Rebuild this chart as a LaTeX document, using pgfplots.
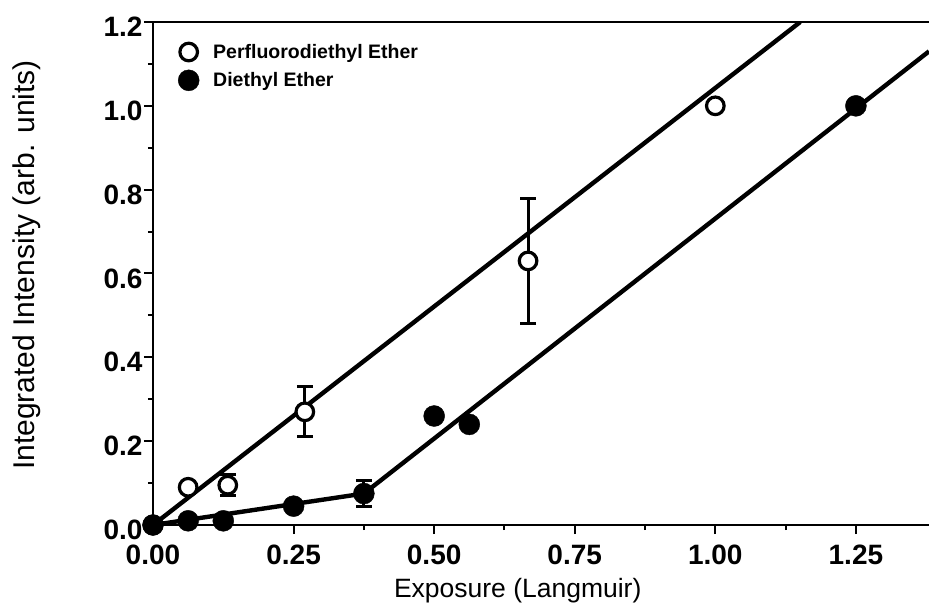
\documentclass[border=0pt]{standalone}
\usepackage{fontspec}
\setmainfont{Liberation Sans}
\usepackage{pgfplots}
\pgfplotsset{compat=1.18}
\begin{document}
\begin{tikzpicture}[x=1pt,y=1pt]
\useasboundingbox (-153,-83) rectangle (776,525);
\begin{axis}[
  at={(0,0)}, anchor=south west,
  scale only axis, width=776pt, height=503pt,
  xmin=0, xmax=1.38, ymin=0, ymax=1.2,
  axis x line*=bottom, axis y line*=left,
  axis line style={line width=2.8pt},
  xtick={0,0.25,0.5,0.75,1,1.25}, minor x tick num=1,
  ytick={0,0.2,0.4,0.6,0.8,1.0,1.2}, minor y tick num=1,
  tick align=outside,
  major tick length=9pt, minor tick length=5pt,
  tick style={line width=2pt, black},
  /pgf/number format/assume math mode=true,
  xticklabel style={yshift=-7pt, /pgf/number format/.cd, fixed, fixed zerofill, precision=2},
  yticklabel style={xshift=2pt, yshift=-5pt, /pgf/number format/.cd, fixed, fixed zerofill, precision=1},
  tick label style={font=\bfseries\fontsize{28}{28}\selectfont},
  xlabel={Exposure (Langmuir)},
  ylabel={Integrated Intensity (arb. units)},
  xlabel style={at={(axis description cs:0.47,-0.1451)}, anchor=base,
    font=\fontsize{26.5}{26.5}\selectfont},
  ylabel style={at={(axis description cs:-0.163,0.517)}, anchor=center,
    font=\fontsize{30}{30}\selectfont},
  legend style={draw=none, fill=none, at={(rel axis cs:0,1)}, anchor=north west,
    xshift=22pt, yshift=-18pt, column sep=12pt,
    font=\bfseries\fontsize{19.5}{21}\selectfont, row sep=8pt},
  legend cell align=left,
  error bars/error bar style={line width=3pt},
  error bars/error mark options={rotate=90, mark size=8pt, line width=3pt},
]
% fitted lines
\addplot[forget plot, line width=4.4pt, black] coordinates {(0,0) (1.151,1.2)};
\addplot[forget plot, line width=4.4pt, black] coordinates {(0,0) (0.375,0.075) (1.38,1.13)};
% perfluorodiethyl ether
\addplot[only marks, mark=*, mark size=8.8pt, mark options={fill=white, draw=black, line width=3.2pt},
  error bars/.cd, y dir=both, y explicit]
  coordinates {
    (0,0) +- (0,0)
    (0.0625,0.09) +- (0,0)
    (0.133,0.095) +- (0,0.025)
    (0.27,0.27) +- (0,0.06)
    (0.667,0.63) +- (0,0.15)
    (1.0,1.0) +- (0,0)
  };
\addlegendentry{Perfluorodiethyl Ether}
% diethyl ether
\addplot[only marks, mark=*, mark size=10.5pt, mark options={fill=black, draw=black},
  error bars/.cd, y dir=both, y explicit]
  coordinates {
    (0,0) +- (0,0)
    (0.0625,0.01) +- (0,0)
    (0.125,0.01) +- (0,0)
    (0.25,0.045) +- (0,0)
    (0.375,0.075) +- (0,0.03)
    (0.5,0.26) +- (0,0)
    (0.5625,0.24) +- (0,0)
    (1.25,1.0) +- (0,0)
  };
\addlegendentry{Diethyl Ether}
\draw[line width=2.8pt] (rel axis cs:0,1) -- (rel axis cs:1,1);
\end{axis}
\end{tikzpicture}
\end{document}
